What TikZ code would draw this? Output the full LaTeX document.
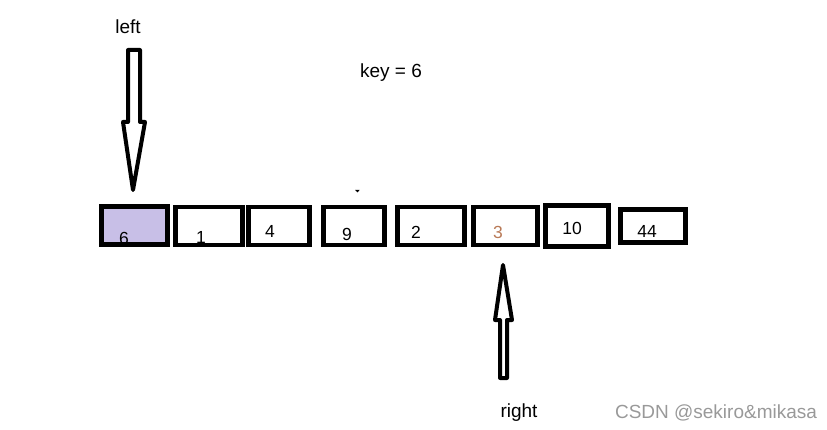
\documentclass[tikz,border=0pt]{standalone}
\usepackage{fontspec}
\setmainfont{Liberation Sans}
\definecolor{lavender}{RGB}{200,191,231}
\definecolor{paintbrown}{RGB}{185,122,87}
\tikzset{
  cell/.style={draw=black,line width=4.8pt,fill=white,inner sep=0pt,minimum height=38pt},
  num/.style={inner sep=0pt,font=\fontsize{17.5}{20}\selectfont},
  lbl/.style={inner sep=0pt,font=\fontsize{19}{22}\selectfont},
  blockarrow/.style={draw=black,line width=4pt,fill=white,line join=round}
}
\begin{document}
\begin{tikzpicture}[x=1pt,y=-1pt]
\useasboundingbox (0,0) rectangle (827,430);
% cells
\node[cell,fill=lavender,minimum width=66pt] (b1) at (134.5,225.5) {};
\node[cell,minimum width=67pt] (b2) at (209,226) {};
\node[cell,minimum width=61pt] (b3) at (279,226) {};
\node[cell,minimum width=61pt] (b4) at (354,226) {};
\node[cell,minimum width=67pt] (b5) at (431,226) {};
\node[cell,minimum width=64pt] (b6) at (505.5,226) {};
\node[cell,minimum width=63pt,minimum height=41pt] (b7) at (577,226) {};
\node[cell,minimum width=65pt,minimum height=33pt] (b8) at (653,226) {};
% values
\node[num] (v1) at (124,238) {6};
\node[num] (v2) at (201,237) {1};
\node[num] (v3) at (270,231) {4};
\node[num] (v4) at (347,234) {9};
\node[num] (v5) at (416,232) {2};
\node[num,text=paintbrown] (v6) at (498,232) {3};
\node[num] (v7) at (572,228) {10};
\node[num] (v8) at (647,231) {44};
% pointers
\draw[blockarrow] (128,50) -- (140,50) -- (140,122) -- (145,122) -- (133,190)
  -- (123,122) -- (128,122) -- cycle;
\draw[blockarrow] (500,378) -- (507,378) -- (507,320) -- (512,320) -- (503,265)
  -- (495,320) -- (500,320) -- cycle;
\fill (355,190) -- (359.5,190) -- (357.5,192.5) -- cycle;
% labels
\node[lbl] (left) at (128,27) {left};
\node[lbl] (key) at (391,73) {key = 6};
\node[lbl] (right) at (519,413) {right};
\node[lbl,text=black!40] (mark) at (716,413) {CSDN @sekiro\&mikasa};
\end{tikzpicture}
\end{document}
